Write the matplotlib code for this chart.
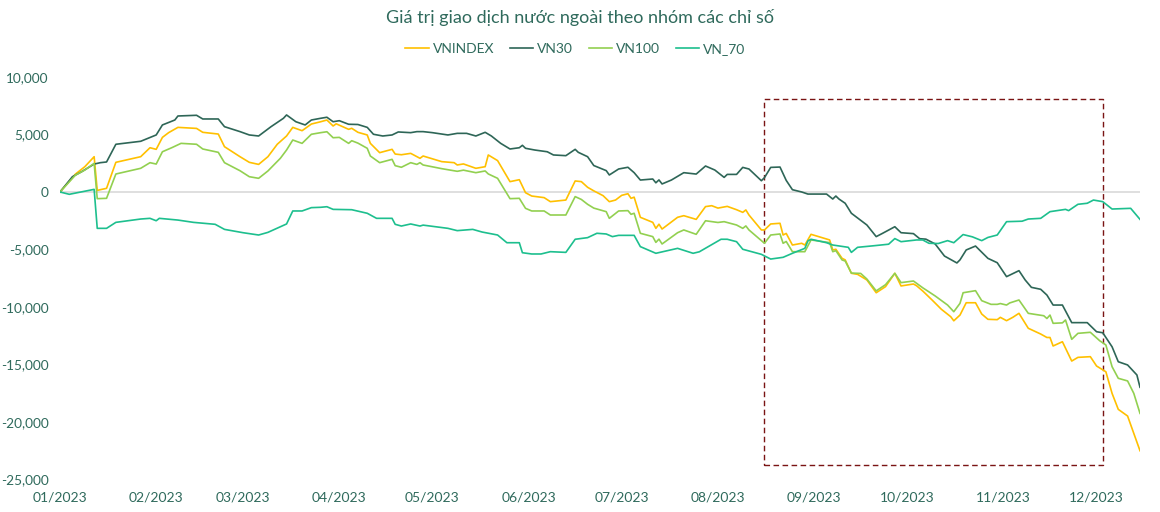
import numpy as np
import pandas as pd
import matplotlib
matplotlib.use("Agg")
import matplotlib.pyplot as plt
import matplotlib.dates as mdates
from matplotlib.patches import Rectangle

# Foreign trading value by index group, 2023
# x = day of the year counted from 2023-01-01, y = cumulative value
title = "Giá trị giao dịch nước ngoài theo nhóm các chỉ số"
start_date = "2023-01-01"

vn30_days = [0, 4, 7, 11, 13, 15, 18, 26, 31, 33, 37, 38, 44, 46, 51, 53, 58, 61, 64, 68, 72, 73, 76, 79, 81,
             84, 86, 88, 90, 93, 96, 99, 101, 104, 107, 109, 113, 115, 117, 120, 125, 128, 131, 134, 137, 139,
             142, 145, 148, 149, 150, 153, 157, 159, 163, 166, 167, 170, 172, 176, 177, 180, 183, 185, 187,
             191, 192, 193, 194, 197, 201, 205, 208, 211, 214, 215, 218, 220, 222, 226, 227, 229, 232, 234,
             236, 239, 241, 247, 249, 250, 251, 253, 255, 260, 263, 265, 269, 271, 275, 277, 279, 282, 285,
             289, 290, 292, 295, 299, 302, 305, 309, 311, 313, 316, 318, 320, 323, 326, 331, 334, 336, 339,
             341, 344, 347, 348]
vn30 = [0, 1330, 1770, 2430, 2550, 2610, 4150, 4410, 4960, 5830, 6260, 6610, 6670, 6350, 6350, 5680, 5250,
        4960, 4870, 5680, 6410, 6700, 6110, 5830, 6260, 6410, 6500, 6110, 6200, 5890, 5870, 5620, 5020, 4870,
        4960, 5220, 5160, 5250, 5250, 5160, 4960, 5100, 5100, 4870, 5190, 4870, 4230, 3740, 3850, 4060, 3800,
        3650, 3500, 3220, 3160, 3710, 3450, 3070, 2300, 1860, 1480, 2000, 2150, 1680, 1040, 1130, 800, 1050,
        700, 1040, 1680, 1560, 2260, 1910, 1270, 1530, 1530, 2140, 2000, 980, 1250, 2140, 2170, 1010, 200, 0,
        -180, -180, -610, -350, -610, -980, -1850, -2870, -3880, -3600, -3020, -3540, -3620, -4060, -4100,
        -4520, -5570, -6170, -5900, -5040, -4700, -5770, -6150, -7360, -6840, -7650, -8290, -8460, -8960,
        -9830, -9830, -11360, -11360, -12150, -12240, -13460, -14760, -15040, -15910, -16980]

vnindex_days = [0, 5, 8, 11, 12, 15, 18, 26, 29, 31, 33, 35, 38, 44, 46, 51, 53, 58, 61, 64, 67, 70, 73, 75,
                78, 81, 84, 86, 88, 89, 93, 94, 96, 99, 100, 103, 107, 108, 110, 113, 116, 117, 123, 127, 128,
                130, 134, 137, 138, 141, 145, 148, 150, 152, 156, 158, 163, 166, 168, 170, 172, 175, 177, 179,
                181, 183, 184, 185, 187, 191, 192, 193, 194, 199, 201, 205, 208, 210, 212, 215, 218, 220, 221,
                222, 226, 227, 229, 232, 233, 234, 236, 239, 240, 242, 248, 249, 250, 252, 253, 255, 257, 260,
                263, 266, 269, 271, 275, 276, 278, 281, 284, 287, 288, 290, 292, 295, 297, 299, 302, 303, 305,
                307, 309, 312, 316, 318, 319, 320, 323, 326, 328, 332, 334, 337, 339, 341, 344, 346, 348]
vnindex = [0, 1565, 2200, 3070, 140, 320, 2580, 3070, 3850, 3710, 4750, 5160, 5620, 5530, 5190, 5040, 3940,
           3070, 2580, 2400, 3070, 4150, 4870, 5620, 5330, 5910, 6110, 6260, 5740, 5930, 5450, 5540, 5190, 4960,
           4230, 3420, 3710, 3300, 3240, 3360, 2930, 3130, 2640, 2550, 2350, 2440, 2060, 2200, 3220, 2730, 900,
           1070, -60, -350, -490, -840, -700, 960, 900, 410, 100, -320, -840, -700, -290, -150, -550, -450,
           -2200, -2640, -3160, -2800, -3220, -2200, -2060, -2380, -1270, -1190, -1400, -1250, -1540, -1770,
           -1560, -2000, -3300, -3300, -2780, -2720, -3740, -3600, -4610, -4460, -4610, -3680, -4170, -5040,
           -4980, -5770, -5900, -7070, -7160, -7650, -8760, -8230, -7070, -8170, -8000, -8150, -8610, -9390,
           -10200, -10840, -11200, -10700, -9630, -9630, -10610, -11070, -11100, -10900, -11190, -10900,
           -10550, -11850, -12350, -12650, -12650, -13390, -13020, -14700, -14380, -14320, -15130, -15630,
           -17510, -18900, -19480, -20990, -22500]

vn100_days = [0, 5, 8, 11, 12, 15, 18, 26, 29, 31, 33, 36, 39, 44, 46, 51, 53, 58, 61, 64, 67, 71, 73, 75, 78,
              81, 84, 86, 88, 90, 93, 94, 96, 99, 100, 103, 107, 108, 110, 113, 115, 116, 117, 123, 128, 130,
              134, 137, 138, 141, 145, 148, 150, 152, 156, 158, 163, 166, 168, 170, 172, 176, 177, 180, 183,
              184, 185, 187, 191, 192, 193, 194, 199, 201, 205, 208, 212, 214, 218, 220, 221, 222, 227, 229,
              232, 233, 234, 236, 240, 242, 248, 249, 250, 252, 253, 255, 258, 260, 263, 266, 269, 271, 275,
              278, 282, 286, 288, 290, 291, 295, 297, 300, 302, 303, 305, 306, 309, 312, 317, 318, 319, 320,
              323, 324, 326, 328, 332, 335, 337, 339, 341, 344, 346, 348]
vn100 = [0, 1475, 1910, 2490, -580, -550, 1565, 2060, 2550, 2430, 3500, 3850, 4230, 4150, 3740, 3450, 2550,
         1850, 1330, 1190, 1830, 2930, 3650, 4520, 4230, 5020, 5160, 5240, 4720, 4750, 4230, 4460, 4250, 3800,
         3130, 2550, 2840, 2290, 2150, 2550, 2400, 2550, 2350, 2030, 1800, 1900, 1680, 1830, 1570, 1190, -580,
         -550, -1420, -1650, -1650, -2000, -2000, -400, -650, -1070, -1400, -1710, -2290, -1650, -1620, -1940,
         -1850, -3590, -3880, -4380, -4100, -4520, -3540, -3300, -3680, -2500, -2650, -2580, -2870, -3160,
         -2950, -3300, -4460, -3740, -3650, -4460, -4300, -5190, -5190, -4170, -4400, -5190, -5100, -5910,
         -6000, -7050, -7080, -7570, -8600, -8060, -7070, -7880, -7740, -8330, -9040, -9830, -10410, -9680,
         -8760, -8580, -9450, -9770, -9770, -9700, -9830, -9650, -9390, -10550, -10760, -11000, -10700,
         -11420, -11380, -11130, -12810, -12290, -12200, -12930, -13300, -15190, -16200, -16430, -17510,
         -19250]

vn70_days = [0, 3, 11, 12, 15, 18, 26, 29, 31, 32, 38, 43, 50, 53, 59, 64, 67, 73, 75, 78, 81, 84, 86, 88, 94,
             99, 102, 107, 108, 110, 113, 116, 117, 125, 128, 133, 136, 141, 144, 148, 149, 152, 155, 158,
             163, 166, 170, 173, 176, 178, 180, 185, 187, 192, 199, 204, 206, 213, 215, 218, 220, 226, 229,
             233, 236, 240, 241, 242, 247, 249, 254, 255, 257, 262, 267, 269, 271, 276, 278, 280, 283, 286,
             288, 291, 294, 297, 299, 302, 305, 310, 312, 316, 319, 324, 325, 328, 331, 333, 336, 339, 345,
             348]
vn70 = [0, -200, 230, -3160, -3160, -2640, -2350, -2290, -2500, -2290, -2440, -2640, -2810, -3250, -3540,
        -3740, -3510, -2780, -1650, -1650, -1360, -1330, -1280, -1510, -1540, -1850, -2290, -2290, -2810,
        -2960, -2780, -2960, -2880, -3160, -3360, -3250, -3480, -3740, -4410, -4410, -5280, -5390, -5390,
        -5190, -5250, -4110, -3970, -3590, -3650, -3880, -3770, -3770, -4750, -5330, -4900, -5330, -5200,
        -4110, -4110, -4320, -4980, -5420, -5830, -5680, -5330, -4900, -4250, -4110, -4410, -4610, -4810,
        -5250, -4810, -4680, -4540, -4050, -4320, -4170, -4170, -4460, -4480, -4230, -4410, -3700, -3900,
        -4230, -3950, -3740, -2580, -2540, -2350, -2290, -1710, -1510, -1620, -1070, -980, -700, -840, -1480,
        -1420, -2380]

# dashed box highlighting the last months (day range, value range)
box_days = [227, 336]
box_values = [-23700, 8100]

series = [("VNINDEX", vnindex_days, vnindex, "#FFC000"),
          ("VN30", vn30_days, vn30, "#2E6657"),
          ("VN100", vn100_days, vn100, "#92D050"),
          ("VN_70", vn70_days, vn70, "#1DBF8E")]

text_color = "#2F6A5C"
plt.rcParams['font.family'] = ['Lato', 'DejaVu Sans']

base = pd.Timestamp(start_date)


def to_dates(days):
    return base + pd.to_timedelta(days, unit="D")


fig = plt.figure(figsize=(11.6, 5.12), dpi=100)
ax = fig.add_axes([60 / 1160, 1 - 479.5 / 512, 1080 / 1160, 402.5 / 512])

for name, d, v, c in series:
    ax.plot(to_dates(d), v, color=c, lw=1.2, label=name)

ax.axhline(0, color="#D9D9D9", lw=1.2, zorder=0)

x0, x1 = to_dates(box_days)
ax.add_patch(Rectangle((mdates.date2num(x0), box_values[0]),
                       mdates.date2num(x1) - mdates.date2num(x0),
                       box_values[1] - box_values[0],
                       fill=False, edgecolor="#7A1414", lw=1.0, linestyle=(0, (4, 2.5))))

ax.set_ylim(-25000, 10000)
ax.set_yticks(np.arange(-25000, 10001, 5000))
ax.yaxis.set_major_formatter(matplotlib.ticker.FuncFormatter(lambda v, p: f"{int(v):,}"))
ax.set_xlim(base, to_dates([348])[0])
ax.xaxis.set_major_locator(mdates.MonthLocator())
ax.xaxis.set_major_formatter(mdates.DateFormatter("%m/%Y"))

for s in ax.spines.values():
    s.set_visible(False)
ax.tick_params(axis="y", length=0, pad=8, labelsize=9.8, labelcolor=text_color)
ax.tick_params(axis="x", length=0, pad=9, labelsize=10, labelcolor=text_color)

fig.text(0.5, 1 - 17 / 512, title, ha="center", va="center", fontsize=13, color=text_color)
fig.legend(loc="center", bbox_to_anchor=(0.496, 1 - 49 / 512), ncol=4, frameon=False,
           fontsize=10, labelcolor=text_color, handlelength=1.7, handletextpad=0.3,
           columnspacing=1.1)

fig.savefig("out.png", dpi=100)
